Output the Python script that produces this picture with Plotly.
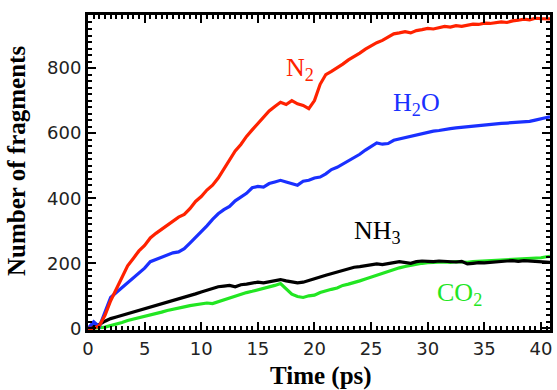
import plotly.graph_objects as go

time_ps = [0, 0.5, 1, 1.5, 2, 2.5, 3, 3.5, 4, 4.5, 5, 5.5, 6, 6.5, 7, 7.5, 8, 8.5, 9, 9.5,
           10, 10.5, 11, 11.5, 12, 12.5, 13, 13.5, 14, 14.5, 15, 15.5, 16, 16.5, 17, 17.5, 18, 18.5, 19, 19.5,
           20, 20.5, 21, 21.5, 22, 22.5, 23, 23.5, 24, 24.5, 25, 25.5, 26, 26.5, 27, 27.5, 28, 28.5, 29, 29.5,
           30, 30.5, 31, 31.5, 32, 32.5, 33, 33.5, 34, 34.5, 35, 35.5, 36, 36.5, 37, 37.5, 38, 38.5, 39, 39.5,
           40, 40.5, 40.8]

n2 = [0, 0, 8, 40, 85, 120, 160, 192, 215, 238, 255, 278, 292, 305, 318, 330, 342, 350, 368, 390,
      405, 425, 440, 462, 490, 520, 545, 565, 590, 610, 630, 650, 668, 682, 695, 688, 700, 690, 685, 675,
      700, 750, 780, 790, 800, 812, 825, 835, 846, 858, 868, 878, 885, 895, 905, 908, 912, 908, 915, 918,
      922, 920, 925, 928, 926, 930, 928, 932, 935, 934, 938, 937, 940, 942, 940, 945, 947, 950, 948, 953,
      952, 950, 951]

h2o = [0, 20, 5, 50, 95, 110, 125, 140, 152, 170, 185, 205, 212, 218, 225, 232, 235, 245, 262, 280,
       295, 315, 335, 352, 365, 375, 392, 405, 415, 432, 436, 434, 445, 450, 455, 450, 445, 440, 452, 455,
       462, 465, 475, 488, 495, 505, 515, 525, 535, 548, 560, 570, 566, 568, 578, 582, 588, 592, 596, 600,
       602, 606, 608, 612, 614, 616, 618, 620, 622, 624, 625, 626, 628, 630, 631, 632, 633, 634, 636, 640,
       645, 648, 650]

nh3 = [0, 5, 12, 22, 30, 35, 40, 45, 50, 55, 60, 64, 70, 75, 80, 85, 90, 96, 100, 106,
       112, 118, 124, 128, 130, 132, 128, 134, 136, 140, 142, 140, 144, 148, 150, 146, 144, 140, 142, 148,
       152, 158, 163, 168, 174, 178, 185, 188, 190, 192, 195, 198, 196, 200, 202, 205, 203, 200, 205, 207,
       206, 205, 207, 206, 205, 204, 206, 198, 200, 202, 201, 203, 204, 206, 207, 208, 206, 208, 207, 206,
       204, 202, 203]

co2 = [0, 0, 2, 4, 8, 12, 18, 24, 28, 33, 38, 42, 46, 50, 55, 58, 62, 66, 70, 72,
       75, 78, 76, 82, 88, 94, 100, 105, 110, 114, 118, 122, 126, 132, 138, 122, 105, 98, 95, 100,
       102, 110, 116, 120, 124, 132, 136, 140, 146, 152, 158, 164, 168, 174, 180, 186, 190, 194, 197, 200,
       202, 203, 202, 204, 203, 205, 204, 203, 205, 206, 205, 207, 208, 210, 209, 211, 212, 213, 214, 215,
       217, 220, 221]

series = [
    ("CO2", co2, "#22e622"),
    ("NH3", nh3, "#000000"),
    ("H2O", h2o, "#1a30ff"),
    ("N2", n2, "#ff2200"),
]

labels = [
    ("N<sub>2</sub>", 17.3, 797, "#ff2200"),
    ("H<sub>2</sub>O", 26.8, 690, "#1a30ff"),
    ("NH<sub>3</sub>", 23.3, 295, "#000000"),
    ("CO<sub>2</sub>", 30.6, 105, "#22e622"),
]

x_ticks = [0, 5, 10, 15, 20, 25, 30, 35, 40]
y_ticks = [0, 200, 400, 600, 800]
x_title = "Time (ps)"
y_title = "Number of fragments"

fig = go.Figure()
for name, vals, col in series:
    fig.add_trace(go.Scatter(x=time_ps, y=vals, mode="lines", name=name,
                             line=dict(color=col, width=3.2), showlegend=False))

for txt, xv, yv, col in labels:
    fig.add_annotation(x=xv, y=yv, text=txt, showarrow=False, xanchor="left", yanchor="middle",
                       font=dict(family="Liberation Serif", size=26, color=col))

fig.add_annotation(xref="paper", yref="paper", x=0.504, y=-0.146, text="<b>" + x_title + "</b>",
                   showarrow=False, xanchor="center", yanchor="middle",
                   font=dict(family="Liberation Serif", size=25, color="black"))
fig.add_annotation(xref="paper", yref="paper", x=-0.156, y=0.5365, text="<b>" + y_title + "</b>",
                   showarrow=False, xanchor="center", yanchor="middle", textangle=-90,
                   font=dict(family="Liberation Serif", size=25, color="black"))

axis_common = dict(showline=True, linecolor="black", linewidth=3, mirror="allticks",
                   ticks="inside", ticklen=8, tickwidth=2, tickcolor="black",
                   showgrid=False, zeroline=False, automargin=False,
                   tickfont=dict(family="DejaVu Sans", size=18, color="#222222"))

fig.update_xaxes(range=[0, 40.8], tickvals=x_ticks, ticktext=[str(v) for v in x_ticks],
                 minor=dict(dtick=0.5, tick0=0, ticks="inside", ticklen=4, tickwidth=1.5, tickcolor="black"),
                 **axis_common)
fig.update_yaxes(range=[-5, 963], tickvals=y_ticks, ticktext=[str(v) for v in y_ticks],
                 minor=dict(dtick=20, tick0=0, ticks="inside", ticklen=4, tickwidth=1.5, tickcolor="black"),
                 **axis_common)

fig.update_layout(width=557, height=390, margin=dict(l=88, r=7, t=15, b=60, autoexpand=False),
                  plot_bgcolor="white", paper_bgcolor="white")

fig.write_html("out.html", config={"displayModeBar": False},
               post_script="document.body.style.margin='0';document.body.style.overflow='hidden';")
